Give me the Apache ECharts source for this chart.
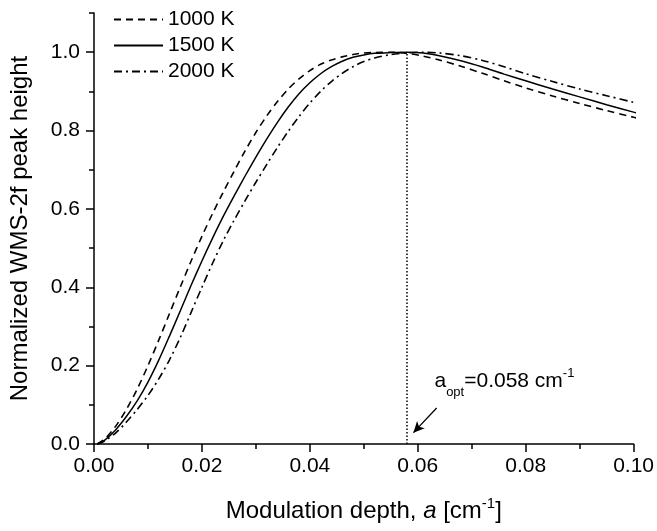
<!DOCTYPE html>
<html>
<head>
<meta charset="utf-8">
<script src="https://cdn.jsdelivr.net/npm/echarts@6/dist/echarts.min.js"></script>
<style>html,body{margin:0;padding:0;background:#fff}#c{width:657px;height:531px}</style>
</head>
<body>
<div id="c"></div>
<script>
// Modulation depth a [cm^-1]
const depth = [0.0006, 0.002, 0.004, 0.006, 0.008, 0.010, 0.012, 0.014, 0.016, 0.018,
  0.020, 0.022, 0.024, 0.026, 0.028, 0.030, 0.032, 0.034, 0.036, 0.038,
  0.040, 0.042, 0.044, 0.046, 0.048, 0.050, 0.052, 0.055, 0.058, 0.061,
  0.064, 0.068, 0.072, 0.076, 0.080, 0.085, 0.090, 0.095, 0.100];
// Normalized WMS-2f peak height
const k1000 = [0.000, 0.013, 0.045, 0.088, 0.140, 0.200, 0.265, 0.333, 0.401, 0.467,
  0.530, 0.589, 0.644, 0.697, 0.748, 0.795, 0.837, 0.874, 0.906, 0.932,
  0.953, 0.969, 0.980, 0.988, 0.994, 0.998, 0.999, 1.000, 0.997, 0.990,
  0.980, 0.964, 0.946, 0.927, 0.909, 0.888, 0.869, 0.851, 0.834];
const k1500 = [0.000, 0.010, 0.036, 0.070, 0.110, 0.158, 0.214, 0.276, 0.340, 0.405,
  0.467, 0.526, 0.582, 0.634, 0.684, 0.732, 0.778, 0.821, 0.860, 0.894,
  0.922, 0.945, 0.963, 0.977, 0.987, 0.993, 0.997, 0.999, 1.000, 0.998,
  0.991, 0.978, 0.962, 0.944, 0.927, 0.906, 0.886, 0.866, 0.847];
const k2000 = [0.000, 0.008, 0.028, 0.056, 0.088, 0.124, 0.166, 0.215, 0.272, 0.336,
  0.400, 0.462, 0.520, 0.572, 0.621, 0.668, 0.713, 0.757, 0.798, 0.836,
  0.870, 0.900, 0.925, 0.946, 0.963, 0.976, 0.985, 0.994, 0.998, 1.000,
  0.998, 0.991, 0.979, 0.963, 0.945, 0.925, 0.906, 0.889, 0.872];
// last point of each curve (drawn past the axis end)
const tailDepth = [0.1008, 0.1024, 0.1003];
const tailValue = [0.831, 0.838, 0.871];
const seriesNames = ['1000 K', '1500 K', '2000 K'];
const yTicks = [0, 0.2, 0.4, 0.6, 0.8, 1.0];
const aOpt = 0.058;

const FONT = 'Liberation Sans, Arial, sans-serif';
const chart = echarts.init(document.getElementById('c'), null, {renderer: 'canvas'});

function pts(vals, i) {
  const d = depth.map((x, j) => [x, vals[j]]);
  d.push([tailDepth[i], tailValue[i]]);
  return d;
}
const styles = [
  {type: [7, 5], width: 1.6},
  {type: 'solid', width: 1.5},
  {type: [8, 4, 2, 4], width: 1.6}
];
const vals = [k1000, k1500, k2000];

const series = seriesNames.map((n, i) => ({
  name: n, type: 'line', data: pts(vals[i], i), showSymbol: false, symbol: 'none',
  smooth: 0.3, clip: false,
  lineStyle: Object.assign({color: '#000'}, styles[i]),
  itemStyle: {color: '#000'}
}));
series.push({
  name: 'annot', type: 'line', data: [], silent: true,
  markLine: {
    silent: true, animation: false, label: {show: false},
    symbol: ['none', 'none'],
    data: [
      [{coord: [aOpt, 0], symbol: 'none'}, {coord: [aOpt, 1.0], symbol: 'none',
        lineStyle: {color: '#000', type: [1.5, 2], width: 1.5}}],
      [{coord: [0.0635, 0.092], symbol: 'none'}, {coord: [0.0592, 0.029], symbol: 'arrow', symbolSize: [8, 11],
        lineStyle: {color: '#000', type: 'solid', width: 1.3}}]
    ],
    lineStyle: {color: '#000'}
  }
});

const option = {
  animation: false,
  backgroundColor: '#fff',
  textStyle: {fontFamily: FONT, color: '#000'},
  grid: {left: 92, right: 21, top: 13, bottom: 79, containLabel: false},
  legend: {
    data: seriesNames, orient: 'vertical', left: 113, top: 9, padding: 0,
    itemWidth: 49, itemHeight: 14, itemGap: 5,
    itemStyle: {opacity: 0},
    textStyle: {fontFamily: FONT, fontSize: 21, color: '#000'},
    selectedMode: false
  },
  xAxis: {
    type: 'value', min: 0, max: 0.1, interval: 0.02,
    name: 'Modulation depth, {i|a} [cm{sup|-1}]',
    nameLocation: 'middle', nameGap: 52,
    nameTextStyle: {fontFamily: FONT, fontSize: 24, color: '#000', lineHeight: 30,
      rich: {
        i: {fontFamily: FONT, fontSize: 24, fontStyle: 'italic', color: '#000', lineHeight: 30},
        sup: {fontFamily: FONT, fontSize: 15, color: '#000', verticalAlign: 'top', lineHeight: 16}
      }},
    axisLine: {onZero: false, lineStyle: {color: '#000', width: 1.5}},
    axisTick: {show: true, inside: false, length: 8, lineStyle: {color: '#000', width: 1.5}},
    minorTick: {show: true, splitNumber: 2, length: 5, lineStyle: {color: '#000', width: 1.5}},
    axisLabel: {fontFamily: FONT, fontSize: 21, color: '#000', margin: 12,
      formatter: v => v.toFixed(2)},
    splitLine: {show: false}, minorSplitLine: {show: false}
  },
  yAxis: [{
    type: 'value', min: 0, max: 1.1,
    name: 'Normalized WMS-2f peak height',
    nameLocation: 'middle', nameGap: 62, nameRotate: 90,
    nameTextStyle: {fontFamily: FONT, fontSize: 24, color: '#000'},
    axisLine: {onZero: false, lineStyle: {color: '#000', width: 1.5}},
    axisTick: {show: true, inside: false, length: 8, customValues: yTicks, lineStyle: {color: '#000', width: 1.5}},
    axisLabel: {fontFamily: FONT, fontSize: 21, color: '#000', margin: 14, customValues: yTicks,
      formatter: v => v.toFixed(1)},
    splitLine: {show: false}
  }, {
    type: 'value', min: 0, max: 1.1, interval: 0.1, position: 'left',
    axisLine: {show: false},
    axisTick: {show: true, inside: false, length: 5, lineStyle: {color: '#000', width: 1.5}},
    axisLabel: {show: false}, splitLine: {show: false}
  }],
  series: series
};
chart.setOption(option);

// annotation text a_opt = 0.058 cm^-1
const p = chart.convertToPixel({gridIndex: 0}, [0.0631, 0.160]);
chart.setOption({
  graphic: [{
    type: 'text', x: p[0], y: p[1], silent: true,
    style: {
      text: '{m|a}{sub|opt}{m|=0.058 cm}{sup|-1}',
      textAlign: 'left', textVerticalAlign: 'middle',
      rich: {
        m: {fontFamily: FONT, fontSize: 21, fill: '#000', color: '#000', lineHeight: 36, verticalAlign: 'middle'},
        sub: {fontFamily: FONT, fontSize: 13, fill: '#000', color: '#000', verticalAlign: 'bottom', lineHeight: 14},
        sup: {fontFamily: FONT, fontSize: 13, fill: '#000', color: '#000', verticalAlign: 'top', lineHeight: 14, padding: [4, 0, 0, 0]}
      }
    }
  }]
});
</script>
</body>
</html>
